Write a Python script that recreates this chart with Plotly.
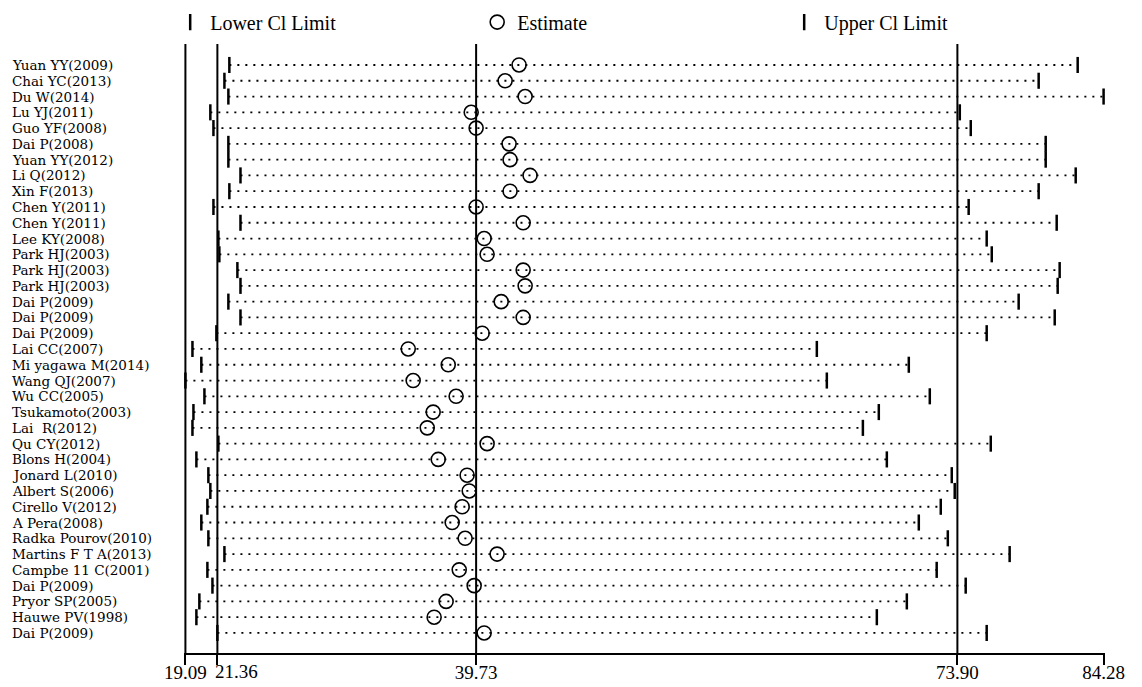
import plotly.graph_objects as go

labels = [
    "Yuan YY(2009)", "Chai YC(2013)", "Du W(2014)", "Lu YJ(2011)", "Guo YF(2008)",
    "Dai P(2008)", "Yuan YY(2012)", "Li Q(2012)", "Xin F(2013)", "Chen Y(2011)",
    "Chen Y(2011)", "Lee KY(2008)", "Park HJ(2003)", "Park HJ(2003)", "Park HJ(2003)",
    "Dai P(2009)", "Dai P(2009)", "Dai P(2009)", "Lai CC(2007)", "Mi yagawa M(2014)",
    "Wang QJ(2007)", "Wu CC(2005)", "Tsukamoto(2003)", "Lai  R(2012)", "Qu CY(2012)",
    "Blons H(2004)", "Jonard L(2010)", "Albert S(2006)", "Cirello V(2012)", "A Pera(2008)",
    "Radka Pourov(2010)", "Martins F T A(2013)", "Campbe 11 C(2001)", "Dai P(2009)",
    "Pryor SP(2005)", "Hauwe PV(1998)", "Dai P(2009)",
]
lower = [22.21, 21.86, 22.14, 20.86, 21.08, 22.14, 22.14, 23.00, 22.21, 21.08,
         23.00, 21.43, 21.50, 22.78, 23.00, 22.14, 23.00, 21.29, 19.59, 20.22,
         19.09, 20.44, 19.66, 19.59, 21.43, 19.87, 20.72, 20.86, 20.65, 20.22,
         20.72, 21.86, 20.65, 21.01, 20.08, 19.87, 21.36]
estimate = [42.78, 41.79, 43.21, 39.38, 39.73, 42.07, 42.14, 43.56, 42.14, 39.73,
            43.07, 40.30, 40.51, 43.07, 43.21, 41.51, 43.07, 40.16, 34.91, 37.75,
            35.26, 38.31, 36.68, 36.26, 40.51, 37.04, 39.09, 39.24, 38.74, 38.03,
            38.95, 41.22, 38.53, 39.59, 37.60, 36.75, 40.30]
upper = [82.44, 79.67, 84.28, 74.07, 74.85, 80.17, 80.17, 82.30, 79.67, 74.70,
         80.95, 75.98, 76.34, 81.16, 81.02, 78.25, 80.81, 75.98, 63.92, 70.45,
         64.63, 71.94, 68.32, 67.19, 76.27, 68.89, 73.50, 73.71, 72.72, 71.16,
         73.22, 77.61, 72.43, 74.49, 70.31, 68.18, 75.98]
ref_lines = [19.09, 21.36, 39.73, 73.90]
tick_vals = [19.09, 21.36, 39.73, 73.90, 84.28]
tick_text = ["19.09", "", "39.73", "73.90", "84.28"]
shifted_tick_vals = [21.36]
shifted_tick_text = ["21.36"]

rows = list(range(1, len(labels) + 1))
FONT = "Liberation Serif, Times New Roman, serif"
LABEL_FONT = "DejaVu Serif, Liberation Serif, serif"
X_RANGE = [18.99, 84.38]

fig = go.Figure()

# dotted CI lines
lx, ly = [], []
for r, lo, hi in zip(rows, lower, upper):
    lx += [lo, hi, None]
    ly += [r, r, None]
fig.add_trace(go.Scatter(x=lx, y=ly, mode="lines", showlegend=False, hoverinfo="skip",
                         line=dict(color="black", width=1.8, dash="2px,6px")))

tick_marker = dict(symbol="line-ns", size=11.5, color="black",
                   line=dict(color="black", width=2.5))
fig.add_trace(go.Scatter(x=lower, y=rows, mode="markers", name="Lower Cl Limit",
                         marker=tick_marker))
fig.add_trace(go.Scatter(x=estimate, y=rows, mode="markers", name="Estimate",
                         marker=dict(symbol="circle-open", size=14, color="black",
                                     line=dict(color="black", width=1.6))))
fig.add_trace(go.Scatter(x=upper, y=rows, mode="markers", name="Upper Cl Limit",
                         marker=tick_marker))
# carrier for the shifted tick label axis
fig.add_trace(go.Scatter(x=shifted_tick_vals, y=[None], xaxis="x2", mode="markers",
                         showlegend=False, hoverinfo="skip"))

for v in ref_lines:
    fig.add_shape(type="line", x0=v, x1=v, xref="x", yref="paper", y0=0, y1=1,
                  line=dict(color="black", width=2), layer="below")

for r, lab in zip(rows, labels):
    fig.add_annotation(x=-0.1889, xref="paper", y=r, yref="y", text=lab,
                       showarrow=False, xanchor="left", yanchor="middle",
                       font=dict(family=LABEL_FONT, size=13.5, color="black"))

tick_font = dict(family=FONT, size=19, color="black")
fig.update_layout(
    width=1142, height=687,
    margin=dict(l=184, r=37, t=44, b=34, autoexpand=False),
    paper_bgcolor="white", plot_bgcolor="white",
    font=dict(family=FONT, color="black"),
    legend=dict(orientation="h", x=-0.015, xanchor="left", y=1.036, yanchor="middle",
                font=dict(family=FONT, size=20, color="black"),
                entrywidth=262, entrywidthmode="pixels", itemwidth=30,
                bgcolor="rgba(0,0,0,0)"),
    xaxis=dict(range=X_RANGE, tickvals=tick_vals, ticktext=tick_text,
               tickangle=0, showgrid=False, zeroline=False, showline=True,
               linecolor="black", linewidth=2, ticks="outside", ticklen=10,
               tickwidth=2, tickcolor="black", automargin=False,
               ticklabelstandoff=-9, tickfont=tick_font),
    xaxis2=dict(range=X_RANGE, overlaying="x", anchor="y", side="bottom",
                tickvals=shifted_tick_vals, ticktext=shifted_tick_text,
                ticklabelshift=19, ticklabelstandoff=-9, tickangle=0,
                showgrid=False, zeroline=False,
                showline=False, ticks="outside", ticklen=10, tickwidth=2,
                tickcolor="black", automargin=False, tickfont=tick_font),
    yaxis=dict(range=[38.27, -0.33], showticklabels=False, showgrid=False,
               zeroline=False, showline=False, ticks="", automargin=False),
)

fig.write_html("out.html")
